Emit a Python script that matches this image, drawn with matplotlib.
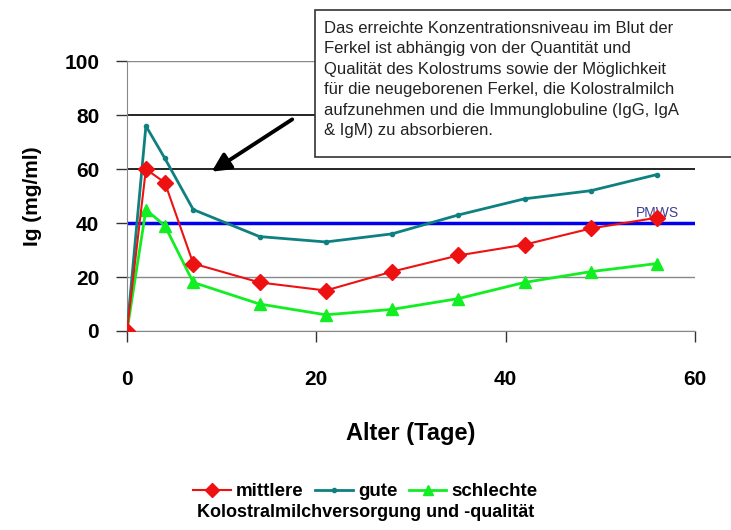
import matplotlib
matplotlib.use("Agg")
import matplotlib.pyplot as plt
from matplotlib.lines import Line2D
from matplotlib.patches import Rectangle

plt.rcParams['font.family'] = ['Liberation Sans', 'DejaVu Sans']

days = [0, 2, 4, 7, 14, 21, 28, 35, 42, 49, 56]
mittlere = [0, 60, 55, 25, 18, 15, 22, 28, 32, 38, 42]
gute = [0, 76, 64, 45, 35, 33, 36, 43, 49, 52, 58]
schlechte = [0, 45, 39, 18, 10, 6, 8, 12, 18, 22, 25]
pmws_level = 40
yticks = [0, 20, 40, 60, 80, 100]
xticks = [0, 20, 40, 60]
note = ("Das erreichte Konzentrationsniveau im Blut der\n"
        "Ferkel ist abhängig von der Quantität und\n"
        "Qualität des Kolostrums sowie der Möglichkeit\n"
        "für die neugeborenen Ferkel, die Kolostralmilch\n"
        "aufzunehmen und die Immunglobuline (IgG, IgA\n"
        "& IgM) zu absorbieren.")

W, H = 731, 530
fig = plt.figure(figsize=(7.31, 5.30), dpi=100)
ax = fig.add_axes([0.1737, 0.3755, 0.777, 0.509])
ax.set_xlim(0, 60)
ax.set_ylim(0, 100)

# gridlines
for y in yticks:
    if y in (60, 80):
        ax.axhline(y, color='black', lw=1.2, zorder=1)
    elif y != pmws_level:
        ax.axhline(y, color='#888888', lw=1.0, zorder=1)
ax.axhline(pmws_level, color='#0000ee', lw=2.5, zorder=2)
ax.text(56, pmws_level + 1, 'PMWS', color='#404090', fontsize=10,
        ha='center', va='bottom')

ax.plot(days, gute, color='#0f8080', lw=2, marker='o', ms=3, zorder=3)
ax.plot(days, mittlere, color='#ee1111', lw=1.5, marker='D', ms=8,
        mec='#ee1111', zorder=4)
ax.plot(days, schlechte, color='#11ee22', lw=2, marker='^', ms=8, zorder=3)

for s in ['top', 'right']:
    ax.spines[s].set_visible(False)
for s in ['left', 'bottom']:
    ax.spines[s].set_color('#888888')
ax.set_yticks(yticks)
ax.set_xticks(xticks)
ax.tick_params(axis='both', colors='#333333', length=8, width=1,
               labelsize=15)
ax.tick_params(axis='x', pad=20)
ax.tick_params(axis='y', pad=12)
for lab in ax.get_xticklabels() + ax.get_yticklabels():
    lab.set_fontweight('bold')
    lab.set_color('black')

ax.set_ylabel('Ig (mg/ml)', fontsize=15, fontweight='bold', labelpad=16)
ax.set_xlabel('Alter (Tage)', fontsize=17, fontweight='bold', labelpad=24)

# annotation box
fig.patches.append(Rectangle((315 / W, 1 - 157 / H), 430 / W, 147 / H,
                             transform=fig.transFigure, fc='white',
                             ec='#333333', lw=1.2, zorder=5))
fig.text(324 / W, 1 - 21 / H, note, fontsize=12, ha='left', va='top',
         linespacing=1.45, color='#222222', zorder=6)
ax.annotate('', xy=(8.7, 58.5), xytext=(17.7, 79),
            arrowprops=dict(arrowstyle='-|>,head_length=1.1,head_width=0.55',
                            color='black', lw=2.8))

handles = [
    Line2D([], [], color='#ee1111', marker='D', ms=7, lw=1.5),
    Line2D([], [], color='#0f8080', marker='o', ms=3, lw=2),
    Line2D([], [], color='#11ee22', marker='^', ms=7, lw=2),
]
fig.legend(handles, ['mittlere', 'gute', 'schlechte'], loc='center',
           bbox_to_anchor=(0.5, 0.072), ncol=3, frameon=False,
           prop={'weight': 'bold', 'size': 13.5}, handlelength=2.0,
           handletextpad=0.3, columnspacing=0.6)
fig.text(0.5, 0.033, 'Kolostralmilchversorgung und -qualität',
         fontsize=13, fontweight='bold', ha='center', va='center')

fig.savefig('out.png', dpi=100)
